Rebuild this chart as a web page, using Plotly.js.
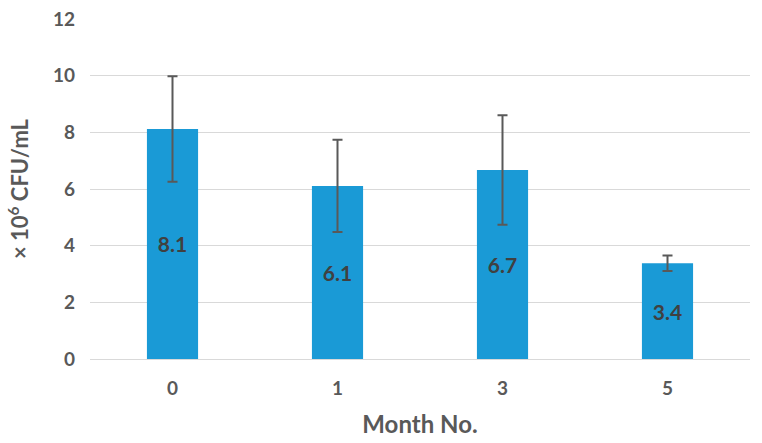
<!DOCTYPE html>
<html>
<head>
<meta charset="utf-8">
<script src="https://cdn.plot.ly/plotly-3.0.1.min.js"></script>
<style>html,body{margin:0;padding:0;background:#fff;}#chart{width:762px;height:443px;}</style>
</head>
<body>
<div id="chart"></div>
<script>
const months = ["0", "1", "3", "5"];
const cfu = [8.12, 6.11, 6.67, 3.38];
const errors = [1.86, 1.63, 1.93, 0.27];
const yTicks = [0, 2, 4, 6, 8, 10, 12];

const fontFam = "Lato, 'Open Sans', sans-serif";

Plotly.newPlot("chart", [{
  type: "bar",
  x: months,
  y: cfu,
  text: cfu.map(v => v.toFixed(1)),
  textposition: "inside",
  insidetextanchor: "middle",
  textfont: {family: fontFam, size: 21, color: "#404040", weight: "bold"},
  marker: {color: "#1a9ad6"},
  error_y: {type: "data", array: errors, visible: true, color: "#595959", thickness: 2, width: 5},
  hoverinfo: "none"
}], {
  width: 762, height: 443,
  margin: {l: 90, r: 12, t: 19, b: 84},
  paper_bgcolor: "#fff", plot_bgcolor: "#fff",
  bargap: 0.69,
  showlegend: false,
  xaxis: {
    type: "category",
    tickfont: {family: fontFam, size: 19, color: "#595959", weight: "bold"},
    ticks: "", showline: false, showgrid: false,
    ticklabelstandoff: 16,
    title: {text: "Month No.", font: {family: fontFam, size: 24, color: "#595959", weight: "bold"}, standoff: 18}
  },
  yaxis: {
    range: [0, 12],
    tickvals: yTicks,
    ticktext: yTicks.map(String),
    tickfont: {family: fontFam, size: 19, color: "#595959", weight: "bold"},
    showgrid: true, gridcolor: "#d9d9d9", gridwidth: 1,
    zeroline: true, zerolinecolor: "#d9d9d9", zerolinewidth: 1,
    ticks: "", showline: false,
    ticklabelstandoff: 14,
    title: {text: "× 10<sup>6</sup> CFU/mL", font: {family: fontFam, size: 22, color: "#595959", weight: "bold"}, standoff: 18}
  }
}, {displayModeBar: false, staticPlot: true});
</script>
</body>
</html>
